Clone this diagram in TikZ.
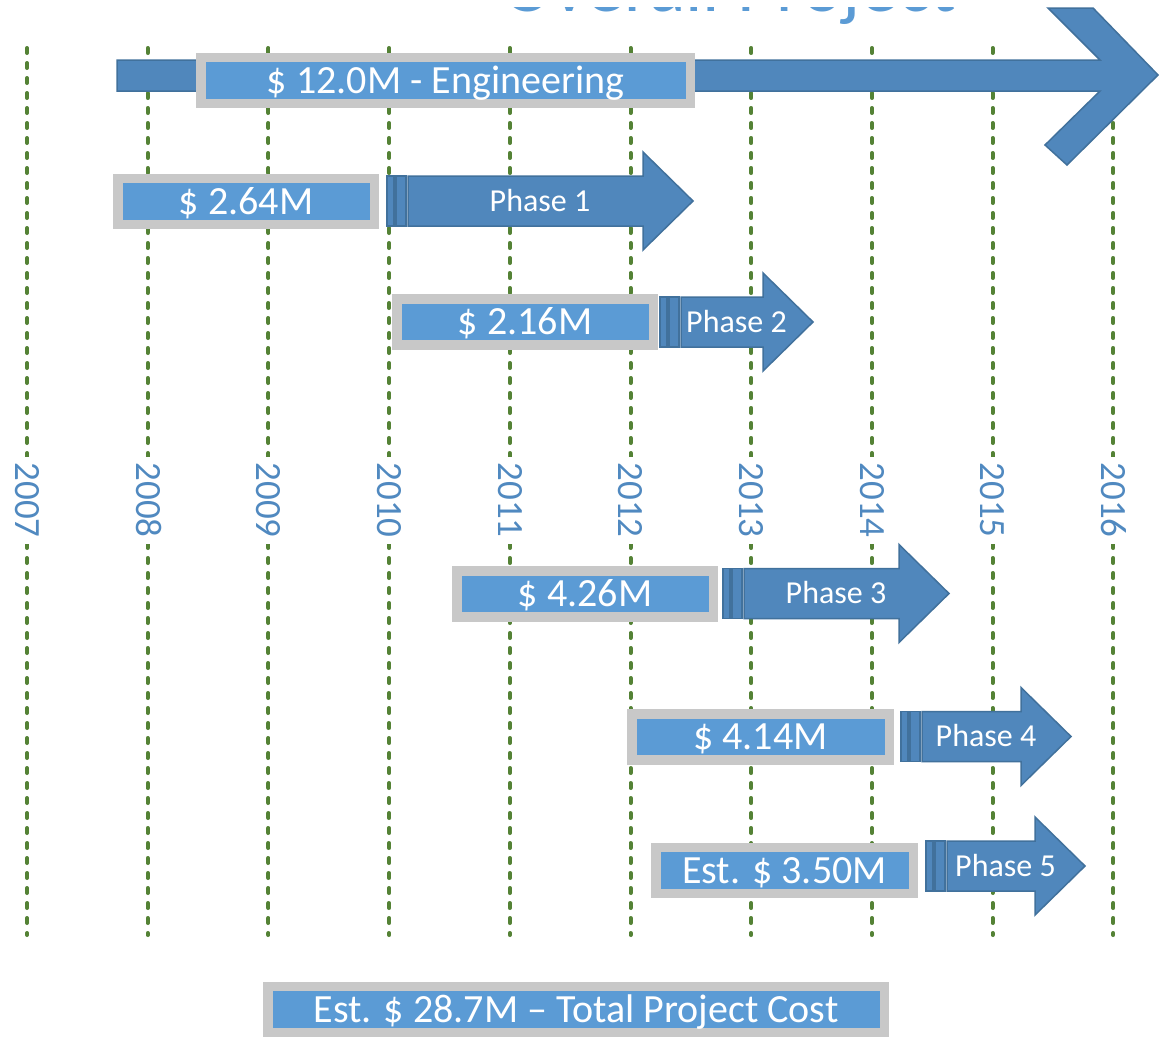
\documentclass[tikz,border=0pt]{standalone}
\usepackage{fontspec}
\setmainfont{Carlito}

\definecolor{arrowblue}{RGB}{80,135,188}
\definecolor{arrowedge}{RGB}{65,113,156}
\definecolor{boxblue}{RGB}{91,155,213}
\definecolor{boxgray}{RGB}{200,200,200}
\definecolor{gridgreen}{RGB}{84,130,53}
\definecolor{yearblue}{RGB}{80,137,192}

\tikzset{
  gridline/.style={gridgreen, line width=4pt, line cap=round, dash pattern=on 5pt off 10pt},
  yearlabel/.style={rotate=-90, fill=white, text=yearblue, inner xsep=6pt, inner ysep=2pt,
    font=\fontsize{37}{40}\selectfont, text height=23.4pt, text depth=0pt},
  costbox/.style={draw=boxgray, line width=9.5pt, fill=boxblue, text=white, inner sep=0pt,
    minimum height=46pt, font=\fontsize{40}{48}\selectfont, text height=25.3pt, text depth=0pt},
  arrowshape/.style={fill=arrowblue, draw=arrowedge, line width=1.5pt, line join=miter},
  phaselabel/.style={text=white, inner sep=0pt, font=\fontsize{32}{38}\selectfont,
    text height=20.2pt, text depth=0pt},
  titletext/.style={text=boxblue, inner sep=0pt, font=\fontsize{76}{80}\selectfont},
}

% striped phase arrow: name, start x, tip x, centre y, label
\newcommand\phasearrow[5]{%
  \draw[arrowshape] (#2,{#4-25}) rectangle ({#2+7},{#4+25});
  \draw[arrowshape] ({#2+9},{#4-25}) rectangle ({#2+19},{#4+25});
  \draw[arrowshape] ({#2+21},{#4-25}) -- ({#3-50},{#4-25}) -- ({#3-50},{#4-49})
    -- (#3,#4) -- ({#3-50},{#4+49}) -- ({#3-50},{#4+25}) -- ({#2+21},{#4+25}) -- cycle;
  \node[phaselabel] (#1) at ({(#2+#3)/2},#4) {#5};
}

\begin{document}
\begin{tikzpicture}[x=1pt, y=-1pt]
\useasboundingbox (0,0) rectangle (1159,1036);
\fill[white] (0,0) rectangle (1159,1036);

% heading; only its lowest strip lies inside the frame
\begin{scope}
  \clip (0,7) rectangle (1159,40);
  \node[titletext, anchor=base] (title) at (729,11.5) {Overall Project};
\end{scope}

\begin{scope}
\clip (0,0) rectangle (1159,1036);

% year grid
\foreach \yr [count=\i from 0] in {2007,...,2016} {
  \pgfmathsetmacro\gx{27+120.7*\i}
  \coordinate (top\yr) at (\gx,48);
  \coordinate (bot\yr) at (\gx,935);
  \draw[gridline] (top\yr) -- (bot\yr);
  \node[yearlabel] (lab\yr) at (\gx,500) {\yr};
}

% overall engineering arrow with chevron head
\draw[arrowshape] (117,60) -- (1100,60) -- (1048,8) -- (1093,8) -- (1158,75)
  -- (1067,165) -- (1045,145) -- (1100,91) -- (117,91) -- cycle;
\node[costbox, minimum width=489.5pt] (eng) at (445.5,80.5) {\$ 12.0M - Engineering};

% phases
\phasearrow{ph1}{387}{693}{201}{Phase 1}
\node[costbox, minimum width=256.5pt] (cost1) at (246,201.5) {\$ 2.64M};

\phasearrow{ph2}{660}{813}{322}{Phase 2}
\node[costbox, minimum width=256.5pt] (cost2) at (525,322) {\$ 2.16M};

\phasearrow{ph3}{723}{949}{593.5}{Phase 3}
\node[costbox, minimum width=256.5pt] (cost3) at (585,594) {\$ 4.26M};

\phasearrow{ph4}{901}{1071}{736.5}{Phase 4}
\node[costbox, minimum width=257.5pt] (cost4) at (760.5,737) {\$ 4.14M};

\phasearrow{ph5}{926}{1085}{866}{Phase 5}
\node[costbox, minimum width=257.5pt] (cost5) at (784.5,870.5) {Est. \$ 3.50M};

% total
\node[costbox, minimum width=616.5pt] (total) at (576,1009.5) {Est. \$ 28.7M -- Total Project Cost};
\end{scope}
\end{tikzpicture}
\end{document}
